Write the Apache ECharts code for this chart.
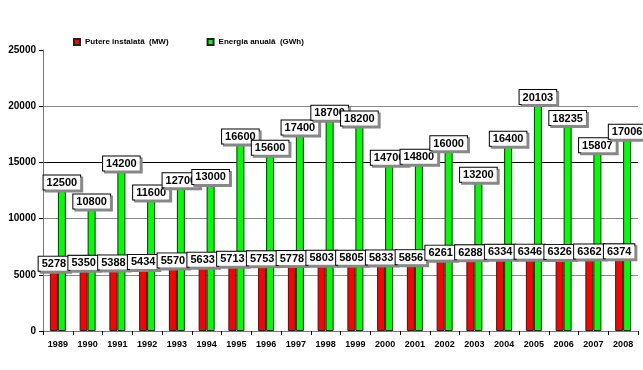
<!DOCTYPE html>
<html><head><meta charset="utf-8">
<script src="https://cdn.jsdelivr.net/npm/echarts@6/dist/echarts.min.js"></script>
<style>html,body{margin:0;padding:0;background:#fff}#c{width:643px;height:370px}</style>
</head><body><div id="c"></div>
<script>
const years = ['1989','1990','1991','1992','1993','1994','1995','1996','1997','1998','1999','2000','2001','2002','2003','2004','2005','2006','2007','2008'];
const putere = [5278,5350,5388,5434,5570,5633,5713,5753,5778,5803,5805,5833,5856,6261,6288,6334,6346,6326,6362,6374];
const energie = [12500,10800,14200,11600,12700,13000,16600,15600,17400,18700,18200,14700,14800,16000,13200,16400,20103,18235,15807,17006];
const seriesNames = ['Putere instalată  (MW)','Energia anuală  (GWh)'];
const yTicks = {min:0, max:25000, interval:5000};

const F = '"Liberation Sans", Arial, sans-serif';
const lbl = {
  show:true, position:'top', distance:1,
  fontFamily:F, fontWeight:'bold', fontSize:11, color:'#000',
  backgroundColor:'#fff', borderColor:'#000', borderWidth:1,
  padding:[2,3,1,3],
  shadowColor:'#888', shadowOffsetX:2, shadowOffsetY:2, shadowBlur:0
};
const chart = echarts.init(document.getElementById('c'), null, {renderer:'canvas'});
chart.setOption({
  animation:false,
  backgroundColor:'#fff',
  legend:{
    top:33, left:68, itemGap:38, itemWidth:6, itemHeight:6, icon:'rect',
    textStyle:{fontFamily:F, fontWeight:'bold', fontSize:8, color:'#000'},
    data:seriesNames
  },
  grid:{left:43, right:5, top:50, bottom:39, containLabel:false},
  xAxis:{
    type:'category', data:years,
    axisLine:{lineStyle:{color:'#777'}},
    axisTick:{show:true, interval:0, lineStyle:{color:'#000'}, length:4},
    axisLabel:{fontFamily:F, fontWeight:'bold', fontSize:9, color:'#000', margin:9, interval:0}
  },
  yAxis:{
    type:'value', min:yTicks.min, max:yTicks.max, interval:yTicks.interval,
    axisLine:{show:true, lineStyle:{color:'#777'}},
    axisTick:{show:true, length:4, lineStyle:{color:'#000'}},
    axisLabel:{fontFamily:F, fontWeight:'bold', fontSize:10, color:'#000', margin:7, formatter:v => String(v)},
    splitLine:{show:true, lineStyle:{color:['#888','#888','#888','#000','#888','rgba(0,0,0,0)'], width:1}}
  },
  series:[
    {name:seriesNames[0], type:'bar', data:putere, barWidth:8, barGap:'0%',
     itemStyle:{color:'#ff0000', borderColor:'#222', borderWidth:1}, label:lbl},
    {name:seriesNames[1], type:'bar', data:energie, barWidth:8,
     itemStyle:{color:'#00ff00', borderColor:'#222', borderWidth:1}, label:lbl}
  ]
});
</script></body></html>
